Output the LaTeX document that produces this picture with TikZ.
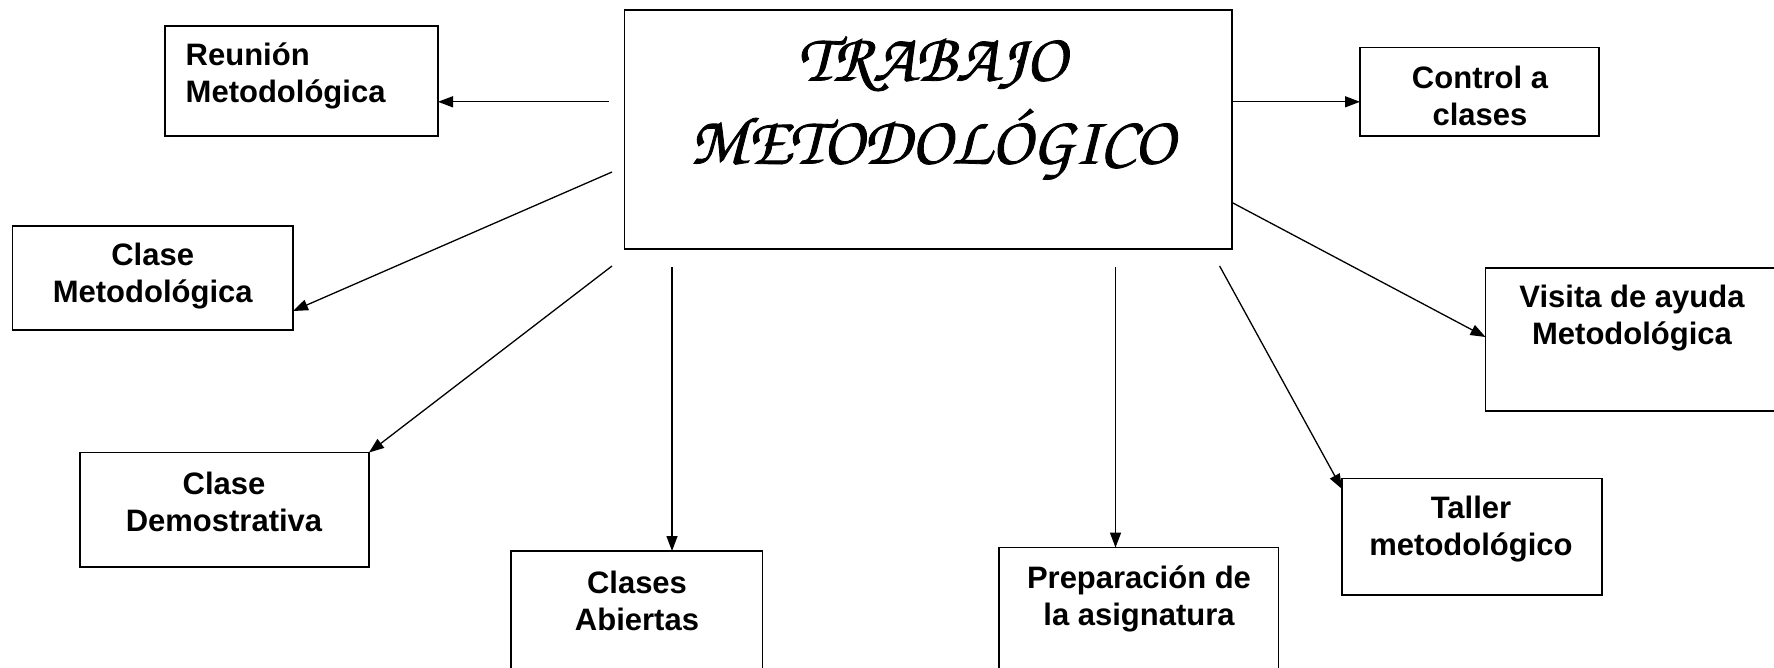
\documentclass[tikz,border=0pt]{standalone}
\usepackage{fontspec}
\setmainfont{Liberation Sans}
\newfontfamily\chorusfont[FakeBold=1.2]{texgyrechorus-mediumitalic.otf}
\usetikzlibrary{arrows.meta}
\tikzset{
  x=1pt, y=-1pt,
  box/.style={draw, line width=1.6pt, inner sep=0pt},
  lbl/.style={font=\fontsize{31}{37}\selectfont\bfseries, align=center, inner sep=0pt},
  conn/.style={line width=1.3pt, -{Triangle[length=15pt,width=11pt]}},
}
\begin{document}
\begin{tikzpicture}
\useasboundingbox (0,0) rectangle (1774,667);
\clip (0,0) rectangle (1774,667);
% central box
\draw[box] (624.5,10) rectangle (1232,249);
\node[minimum width=607.5pt, minimum height=239pt] (main) at (928.25,129.5) {};
\node[inner sep=0pt, align=center, font=\chorusfont\fontsize{68}{83}\selectfont] (title) at (932,108) {TRABAJO\\METODOLÓGICO};
% boxes
\draw[box] (165,26) rectangle (438,136);
\node[minimum width=273pt, minimum height=110pt] (reu) at (301.5,81) {};
\node[lbl, align=left, anchor=west] (treu) at (185.5,76) {Reunión\\Metodológica};

\draw[box] (1360,47.5) rectangle (1599,136);
\node[minimum width=239pt, minimum height=88.5pt] (ctl) at (1479.5,91.75) {};
\node[lbl] (tctl) at (1480,96) {Control a\\clases};

\draw[box] (12.4,226) rectangle (293,330);
\node[minimum width=280.6pt, minimum height=104pt] (cme) at (152.7,278) {};
\node[lbl] (tcme) at (152.7,276) {Clase\\Metodológica};

\draw[box] (1485.5,268) rectangle (1790,411);
\node (vis) at (1485.5,337) {};
\node[lbl] (tvis) at (1632,318) {Visita de ayuda\\Metodológica};

\draw[box] (80,452.5) rectangle (369,567);
\node (cde) at (224.5,510) {};
\node[lbl] (tcde) at (224,502) {Clase\\Demostrativa};

\draw[box] (511,551) rectangle (762.5,690);
\node (cab) at (636.8,620) {};
\node[lbl] (tcab) at (637,601) {Clases\\Abiertas};

\draw[box] (999,547.6) rectangle (1278.5,690);
\node (pre) at (1138.8,620) {};
\node[lbl] (tpre) at (1139,599) {Preparación de\\la asignatura};

\draw[box] (1342,478.6) rectangle (1602,595);
\node (tal) at (1472,537) {};
\node[lbl] (ttal) at (1471,529) {Taller\\metodológico};

% connector end points
\coordinate (s1) at (608.7,101.8);  \coordinate (e1) at (438,101.8);
\coordinate (s2) at (1233,101.8);   \coordinate (e2) at (1360,101.8);
\coordinate (s3) at (612,172);      \coordinate (e3) at (293,311);
\coordinate (s4) at (612,266);      \coordinate (e4) at (369,452.5);
\coordinate (s5) at (672,267);      \coordinate (e5) at (672,551);
\coordinate (s6) at (1115.5,267);   \coordinate (e6) at (1115.5,547.6);
\coordinate (s7) at (1219.6,266);   \coordinate (e7) at (1342,489);
\coordinate (s8) at (1232,202.5);   \coordinate (e8) at (1485.5,337);

\draw[conn] (s1) -- (e1);
\draw[conn] (s2) -- (e2);
\draw[conn] (s3) -- (e3);
\draw[conn] (s4) -- (e4);
\draw[conn] (s5) -- (e5);
\draw[conn] (s6) -- (e6);
\draw[conn] (s7) -- (e7);
\draw[conn] (s8) -- (e8);
\end{tikzpicture}
\end{document}
